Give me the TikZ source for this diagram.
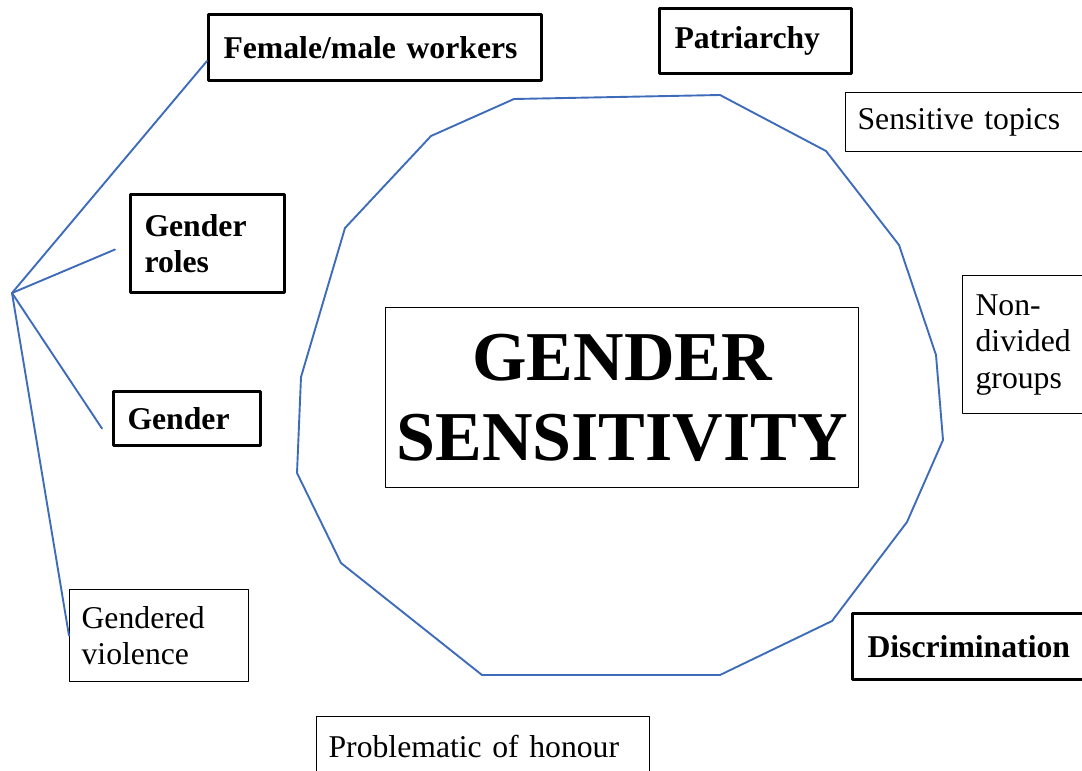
\documentclass[tikz,border=0pt]{standalone}
\usepackage{fontspec}
\setmainfont{Liberation Serif}
\definecolor{lineblue}{RGB}{62,108,186}
\newcommand{\boxfont}{\fontsize{31.7}{36.5}\selectfont}
\newcommand{\bigfont}{\fontsize{70}{80}\selectfont\bfseries}
\begin{document}
\begin{tikzpicture}[x=1pt,y=-1pt, line join=round, line cap=round,
	thinbox/.style={draw, line width=1.2pt, anchor=north west, inner sep=0pt, align=left, font=\boxfont},
	thickbox/.style={thinbox, line width=3pt, font=\boxfont\bfseries},
	link/.style={lineblue, line width=1.9pt}]
	\useasboundingbox (0,0) rectangle (1082,771);
	% boxes round the circle
	\node[thickbox, minimum width=333pt, minimum height=66pt, text width=303pt] (female) at (207,13) {Female/male workers};
	\node[thickbox, minimum width=192pt, minimum height=65pt, text width=162pt] (patriarchy) at (658,7) {\raisebox{-3pt}{Patriarchy}};
	\node[thinbox, minimum width=260pt, minimum height=59pt, text width=236pt] (topics) at (845,92) {\raisebox{-3pt}{Sensitive topics}};
	\node[thickbox, minimum width=154pt, minimum height=98pt, text width=126pt] (roles) at (129,193) {Gender\\roles};
	\node[thickbox, minimum width=147pt, minimum height=54pt, text width=119pt] (gender) at (112,390) {Gender};
	\node[thinbox, minimum width=140pt, minimum height=138pt, text width=114pt] (nondivided) at (962,275) {Non-\\divided\\groups};
	\node[thickbox, minimum width=260pt, minimum height=66pt, text width=230pt] (discrimination) at (851,612) {Discrimination};
	\node[thinbox, minimum width=179pt, minimum height=92pt, text width=155pt] (violence) at (69,589) {Gendered\\violence};
	\node[thinbox, minimum width=333pt, minimum height=60pt, text width=309pt] (honour) at (316,716) {Problematic of honour};
	\node[thinbox, align=center, minimum width=473pt, minimum height=180pt, font=\bigfont] (centre) at (385,307) {GENDER\\SENSITIVITY};
	% the ring
	\draw[link] (514,99) -- (720,95) -- (826,151) -- (899,245) -- (936,355) -- (943,440) -- (907,522) -- (832,621)
		-- (720,675) -- (482,675) -- (341,563) -- (297,473) -- (301,377) -- (345,228) -- (431,136) -- cycle;
	% fan on the left
	\coordinate (hub) at (12,293);
	\coordinate (endfemale) at ([yshift=21pt]female.south west);
	\coordinate (endroles) at ([xshift=-14pt,yshift=-6pt]roles.west);
	\coordinate (endgender) at ([xshift=-10pt,yshift=-10pt]gender.west);
	\coordinate (endviolence) at (violence.west);
	\foreach \e in {endfemale,endroles,endgender,endviolence}
	\draw[link] (hub)--(\e);
\end{tikzpicture}
\end{document}
